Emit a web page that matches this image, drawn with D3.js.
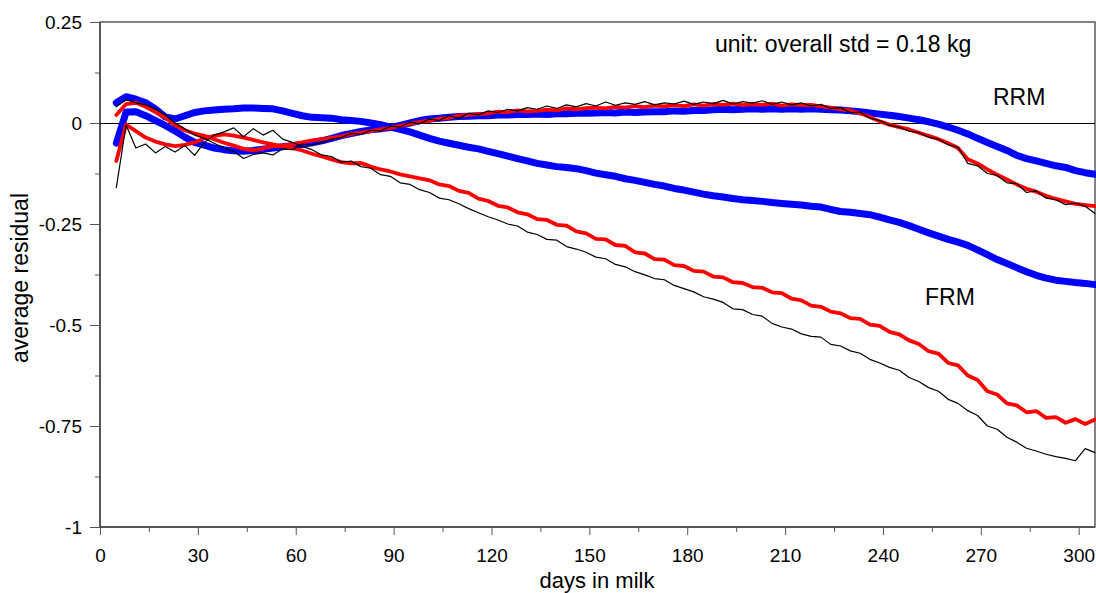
<!DOCTYPE html>
<html>
<head>
<meta charset="utf-8">
<script src="https://cdn.jsdelivr.net/npm/d3@7"></script>
<style>
  body { margin: 0; background: #fff; }
  text { font-family: "Liberation Sans", Arial, sans-serif; fill: #000; }
</style>
</head>
<body>
<div id="chart"></div>
<script>
// day grid of the curves (every 3rd day in milk)
let days = d3.range(5, 306, 3);

let xTicks = [0, 30, 60, 90, 120, 150, 180, 210, 240, 270, 300];
let yTicks = [-1, -0.75, -0.5, -0.25, 0, 0.25];
let yTickLabels = ["-1", "-0.75", "-0.5", "-0.25", "0", "0.25"];

// RRM (upper group)
let rrmBlue = [
  -0.05, 0.027, 0.028, 0.018, 0.006, -0.006, -0.02, -0.035, -0.048, -0.055,
  -0.062, -0.066, -0.069, -0.07, -0.068, -0.065, -0.062, -0.059, -0.056, -0.053,
  -0.049, -0.044, -0.038, -0.031, -0.026, -0.021, -0.017, -0.014, -0.011, -0.006,
  0.0, 0.006, 0.01, 0.012, 0.014, 0.016, 0.017, 0.018, 0.018, 0.02,
  0.02, 0.021, 0.021, 0.022, 0.021, 0.023, 0.023, 0.024, 0.024, 0.025,
  0.026, 0.025, 0.027, 0.026, 0.027, 0.028, 0.028, 0.03, 0.029, 0.031,
  0.031, 0.033, 0.034, 0.033, 0.034, 0.035, 0.034, 0.035, 0.034, 0.035,
  0.034, 0.035, 0.034, 0.033, 0.032, 0.03, 0.028, 0.025, 0.022, 0.019,
  0.016, 0.012, 0.008, 0.003, -0.003, -0.01, -0.018, -0.027, -0.038, -0.048,
  -0.058, -0.068, -0.08, -0.088, -0.094, -0.1, -0.106, -0.11, -0.118, -0.123,
  -0.127];
let rrmRed = [
  0.02, 0.047, 0.05, 0.04, 0.027, 0.013, -0.005, -0.018, -0.026, -0.032,
  -0.04, -0.049, -0.056, -0.064, -0.068, -0.063, -0.058, -0.056, -0.052, -0.048,
  -0.043, -0.04, -0.037, -0.033, -0.027, -0.024, -0.02, -0.016, -0.012, -0.007,
  -0.002, 0.003, 0.006, 0.01, 0.013, 0.018, 0.02, 0.022, 0.024, 0.028,
  0.027, 0.031, 0.029, 0.03, 0.033, 0.031, 0.036, 0.034, 0.037, 0.038,
  0.036, 0.04, 0.038, 0.042, 0.039, 0.043, 0.041, 0.044, 0.042, 0.046,
  0.043, 0.047, 0.045, 0.048, 0.044, 0.047, 0.045, 0.048, 0.043, 0.046,
  0.044, 0.045, 0.041, 0.038, 0.034, 0.031, 0.024, 0.015, 0.004, -0.004,
  -0.01, -0.016, -0.024, -0.032, -0.04, -0.05, -0.062, -0.09, -0.1, -0.115,
  -0.128, -0.14, -0.152, -0.163, -0.17, -0.18, -0.188, -0.194, -0.2, -0.203,
  -0.206];
let rrmBlack = [
  0.04, 0.058, 0.05, 0.045, 0.035, 0.02, 0.0, -0.014, -0.03, -0.038,
  -0.05, -0.062, -0.07, -0.088, -0.078, -0.074, -0.079, -0.064, -0.066, -0.052,
  -0.055, -0.048, -0.04, -0.036, -0.026, -0.028, -0.018, -0.02, -0.008, -0.01,
  0.002, -0.002, 0.01, 0.006, 0.018, 0.012, 0.024, 0.02, 0.03, 0.026,
  0.034, 0.03, 0.038, 0.034, 0.042, 0.036, 0.045, 0.04, 0.048, 0.042,
  0.052, 0.044, 0.05, 0.046, 0.053, 0.045, 0.05, 0.047, 0.054, 0.046,
  0.052, 0.048, 0.056, 0.047, 0.053, 0.049, 0.055, 0.046, 0.052, 0.045,
  0.05, 0.042, 0.046, 0.036, 0.038, 0.026, 0.027, 0.012, 0.006, -0.006,
  -0.01, -0.02, -0.024, -0.035, -0.04, -0.054, -0.06, -0.1, -0.106, -0.125,
  -0.13, -0.148, -0.15, -0.172, -0.168, -0.186, -0.19, -0.202, -0.198, -0.206,
  -0.224];

// FRM (lower group)
let frmBlue = [
  0.05, 0.065, 0.059, 0.05, 0.035, 0.015, 0.01, 0.018, 0.026, 0.03,
  0.032, 0.034, 0.035, 0.037, 0.037, 0.036, 0.035, 0.03, 0.024, 0.018,
  0.014, 0.013, 0.012, 0.008, 0.006, 0.004, 0.0, -0.004, -0.01, -0.016,
  -0.022, -0.03, -0.038, -0.045, -0.05, -0.055, -0.06, -0.064, -0.07, -0.076,
  -0.082, -0.088, -0.094, -0.1, -0.104, -0.108, -0.11, -0.113, -0.118, -0.124,
  -0.128, -0.132, -0.138, -0.142, -0.147, -0.152, -0.156, -0.162, -0.166, -0.171,
  -0.176, -0.18, -0.183, -0.187, -0.19, -0.192, -0.194, -0.197, -0.199, -0.201,
  -0.203, -0.206, -0.208, -0.214, -0.219, -0.221, -0.224, -0.227, -0.233, -0.24,
  -0.246, -0.254, -0.263, -0.272, -0.28, -0.288, -0.295, -0.303, -0.314, -0.326,
  -0.338, -0.348, -0.358, -0.368, -0.377, -0.384, -0.389, -0.392, -0.395, -0.397,
  -0.4];
let frmRed = [
  -0.094, -0.004, -0.02, -0.036, -0.046, -0.053, -0.057, -0.054, -0.048, -0.038,
  -0.032, -0.028, -0.031, -0.036, -0.042, -0.048, -0.053, -0.057, -0.062, -0.068,
  -0.076, -0.083, -0.09, -0.097, -0.1, -0.099, -0.108, -0.115, -0.12, -0.127,
  -0.132, -0.137, -0.142, -0.152, -0.156, -0.168, -0.173, -0.187, -0.193, -0.205,
  -0.209, -0.221, -0.226, -0.238, -0.24, -0.252, -0.254, -0.268, -0.273, -0.287,
  -0.288, -0.302, -0.304, -0.32, -0.323, -0.337, -0.338, -0.352, -0.354, -0.366,
  -0.368, -0.38, -0.382, -0.394, -0.396, -0.406, -0.408, -0.419, -0.421, -0.435,
  -0.439, -0.452, -0.455, -0.467, -0.471, -0.483, -0.485, -0.499, -0.502, -0.517,
  -0.523, -0.538, -0.547, -0.565, -0.571, -0.594, -0.6, -0.625, -0.636, -0.664,
  -0.672, -0.694, -0.699, -0.716, -0.713, -0.73, -0.728, -0.742, -0.733, -0.745,
  -0.734];
let frmBlack = [
  -0.16, -0.005, -0.062, -0.052, -0.074, -0.058, -0.072, -0.056, -0.08, -0.048,
  -0.03, -0.022, -0.012, -0.034, -0.014, -0.03, -0.018, -0.04, -0.048, -0.058,
  -0.066, -0.079, -0.083, -0.097, -0.094, -0.108, -0.112, -0.128, -0.132, -0.148,
  -0.152, -0.165, -0.172, -0.186, -0.19, -0.2, -0.212, -0.222, -0.232, -0.24,
  -0.25, -0.255, -0.27, -0.276, -0.288, -0.29, -0.306, -0.312, -0.32, -0.332,
  -0.336, -0.35, -0.356, -0.368, -0.376, -0.385, -0.388, -0.402, -0.41, -0.418,
  -0.43, -0.436, -0.444, -0.46, -0.462, -0.474, -0.478, -0.496, -0.505, -0.51,
  -0.522, -0.528, -0.53, -0.548, -0.552, -0.564, -0.57, -0.585, -0.594, -0.605,
  -0.612, -0.63, -0.64, -0.655, -0.664, -0.684, -0.694, -0.712, -0.724, -0.75,
  -0.758, -0.778, -0.79, -0.805, -0.812, -0.82, -0.826, -0.83, -0.836, -0.806,
  -0.816];

let svg = d3.select('#chart')
    .append('svg')
    .attr('width', 1096)
    .attr('height', 593);

let x = d3.scaleLinear().domain([0, 305]).range([100, 1095]);
let y = d3.scaleLinear().domain([-1, 0.25]).range([527, 22]);

// minor ticks
let xMinor = d3.range(15, 305, 30);
let yMinor = [-0.875, -0.625, -0.375, -0.125, 0.125];

svg.append('g')
    .attr('transform', 'translate(0,527)')
    .call(d3.axisBottom(x).tickValues(xMinor).tickSize(5).tickFormat(''))
    .call(g => g.select('.domain').remove());
svg.append('g')
    .attr('transform', 'translate(100,0)')
    .call(d3.axisLeft(y).tickValues(yMinor).tickSize(5).tickFormat(''))
    .call(g => g.select('.domain').remove());

let xAxis = svg.append('g')
    .attr('transform', 'translate(0,527)')
    .call(d3.axisBottom(x).tickValues(xTicks).tickSize(8).tickPadding(14).tickFormat(d3.format('d')));
xAxis.select('.domain').remove();
xAxis.selectAll('text').attr('font-size', 19).attr('font-family', '"Liberation Sans", Arial, sans-serif');

let yAxis = svg.append('g')
    .attr('transform', 'translate(100,0)')
    .call(d3.axisLeft(y).tickValues(yTicks).tickSize(10).tickPadding(8)
        .tickFormat(function (d, i) { return yTickLabels[i]; }));
yAxis.select('.domain').remove();
yAxis.selectAll('text').attr('font-size', 19).attr('font-family', '"Liberation Sans", Arial, sans-serif');

svg.selectAll('.tick line').attr('stroke', '#555');

// frame
svg.append('rect')
    .attr('x', x(0))
    .attr('y', y(0.25))
    .attr('width', x(305) - x(0))
    .attr('height', y(-1) - y(0.25))
    .attr('fill', 'none')
    .attr('stroke', '#333')
    .attr('stroke-width', 1.2);
svg.append('line')
    .attr('x1', x(0)).attr('x2', x(0))
    .attr('y1', y(0.25)).attr('y2', y(-1))
    .attr('stroke', '#555').attr('stroke-width', 2);
svg.append('line')
    .attr('x1', x(0)).attr('x2', x(305))
    .attr('y1', y(-1)).attr('y2', y(-1))
    .attr('stroke', '#555').attr('stroke-width', 2);

// zero line
svg.append('line')
    .attr('x1', x(0)).attr('x2', x(305))
    .attr('y1', y(0) + 0.5).attr('y2', y(0) + 0.5)
    .attr('stroke', '#000').attr('stroke-width', 1)
    .attr('shape-rendering', 'crispEdges');

let line = d3.line()
    .x(function (d, i) { return x(days[i]); })
    .y(function (d) { return y(d); });

let series = [
    { values: frmBlue, color: '#0000ff', width: 7 },
    { values: rrmBlue, color: '#0000ff', width: 7 },
    { values: frmRed, color: '#ff0000', width: 3.8 },
    { values: rrmRed, color: '#ff0000', width: 3.8 },
    { values: frmBlack, color: '#000', width: 1.2 },
    { values: rrmBlack, color: '#000', width: 1.2 }
];

svg.append('g')
    .selectAll('path')
    .data(series)
    .enter()
    .append('path')
    .attr('d', function (d) { return line(d.values); })
    .attr('fill', 'none')
    .attr('stroke', function (d) { return d.color; })
    .attr('stroke-width', function (d) { return d.width; })
    .attr('stroke-linejoin', 'round')
    .attr('stroke-linecap', 'round');

// labels
svg.append('text')
    .attr('x', 715).attr('y', 52)
    .attr('font-size', 23)
    .text('unit: overall std = 0.18 kg');
svg.append('text')
    .attr('x', 993).attr('y', 105)
    .attr('font-size', 23)
    .text('RRM');
svg.append('text')
    .attr('x', 925).attr('y', 305)
    .attr('font-size', 23)
    .text('FRM');

svg.append('text')
    .attr('x', 597).attr('y', 588)
    .attr('text-anchor', 'middle')
    .attr('font-size', 22)
    .text('days in milk');
svg.append('text')
    .attr('transform', 'translate(28,278) rotate(-90)')
    .attr('text-anchor', 'middle')
    .attr('font-size', 23)
    .text('average residual');
</script>
</body>
</html>
